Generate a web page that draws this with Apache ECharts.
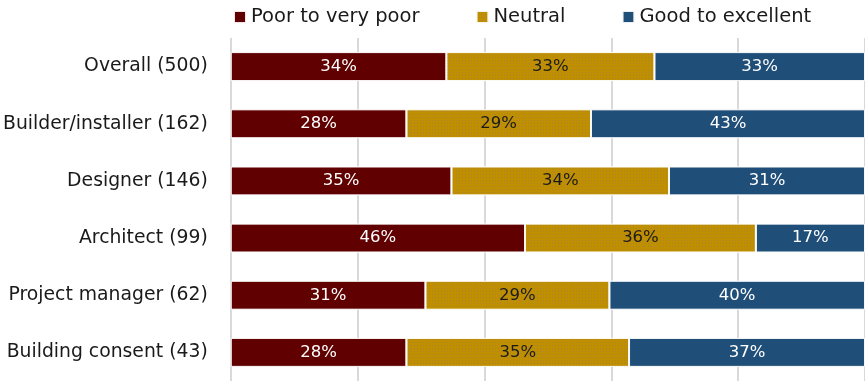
<!DOCTYPE html>
<html>
<head>
<meta charset="utf-8">
<script src="https://cdn.jsdelivr.net/npm/echarts@6/dist/echarts.min.js"></script>
<style>
  html, body { margin: 0; padding: 0; background: #fff; }
  #chart { width: 865px; height: 381px; }
</style>
</head>
<body>
<div id="chart"></div>
<script>
const categories = [
  'Overall (500)',
  'Builder/installer (162)',
  'Designer (146)',
  'Architect (99)',
  'Project manager (62)',
  'Building consent (43)',
];
const seriesNames = ['Poor to very poor', 'Neutral', 'Good to excellent'];
const poor = [34.0, 27.7, 34.8, 46.4, 30.7, 27.7];
const neutral = [32.8, 29.1, 34.3, 36.4, 29.0, 35.1];
const good = [33.2, 43.2, 30.9, 17.2, 40.3, 37.2];

const FONT = 'DejaVu Sans';
const colors = ['#600000', '#bf8f00', '#1f4e79'];
const labelColors = ['#ffffff', '#1a1a1a', '#ffffff'];

const chart = echarts.init(document.getElementById('chart'));

const makeSeries = (name, data, idx) => ({
  name,
  type: 'bar',
  stack: 'total',
  data,
  barWidth: 29,
  itemStyle: {
    color: colors[idx],
    borderColor: 'rgba(255,255,255,0.7)',
    borderWidth: 1,
    // 中性项带点状纹理
    decal: idx === 1
      ? { symbol: 'rect', symbolSize: 0.8, color: 'rgba(130,120,130,0.45)', dashArrayX: [1, 2], dashArrayY: [1, 2] }
      : { symbol: 'none' },
  },
  label: {
    show: true,
    position: 'inside',
    color: labelColors[idx],
    fontFamily: FONT,
    fontSize: 16.5,
    formatter: (p) => Math.round(p.value) + '%',
  },
});

chart.setOption({
  animation: false,
  aria: { enabled: true, decal: { show: true } },
  legend: {
    top: 2,
    left: 228,
    itemWidth: 12,
    itemHeight: 12,
    itemGap: 56,
    icon: 'rect',
    textStyle: { fontFamily: FONT, fontSize: 19.5, color: '#1a1a1a' },
    data: seriesNames,
  },
  grid: { left: 230, right: 0, top: 38, height: 346, containLabel: false },
  xAxis: {
    type: 'value',
    min: 0,
    max: 100,
    interval: 20,
    axisLabel: { show: false },
    axisLine: { show: false },
    axisTick: { show: false },
    splitLine: { show: true, lineStyle: { color: '#d9d9d9', width: 2 } },
  },
  yAxis: {
    type: 'category',
    inverse: true,
    data: categories,
    axisLine: { show: false },
    axisTick: { show: false },
    axisLabel: { fontFamily: FONT, fontSize: 18.8, color: '#1a1a1a', margin: 23 },
  },
  series: [
    makeSeries(seriesNames[0], poor, 0),
    makeSeries(seriesNames[1], neutral, 1),
    makeSeries(seriesNames[2], good, 2),
  ],
});
</script>
</body>
</html>
